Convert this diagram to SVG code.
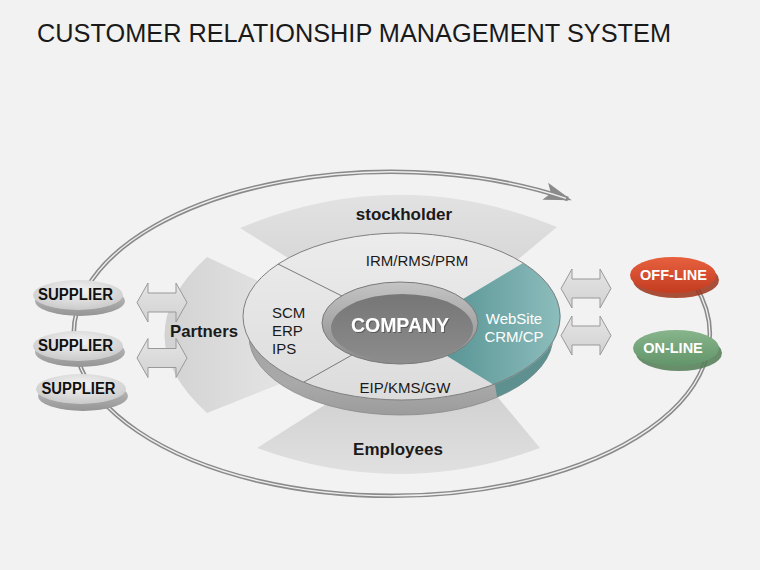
<svg xmlns="http://www.w3.org/2000/svg" width="760" height="570" viewBox="0 0 760 570">
<style>
.t{font-family:"Liberation Sans",Arial,sans-serif}
.b{font-weight:bold}
.lab{font-size:15px;fill:#1a1a1a}
.wl{font-size:15px;fill:#ffffff}
.sup{font-size:16px;font-weight:bold;fill:#111}
.nd{font-size:14.5px;font-weight:bold;fill:#ffffff}
.blk{fill:url(#arrG);stroke:#999;stroke-width:1}
.div{stroke:#7a7a7a;stroke-width:1;fill:none}
</style>
<defs>
<linearGradient id="bandG" x1="0" y1="0" x2="0" y2="1"><stop offset="0" stop-color="#e2e2e2"/><stop offset="1" stop-color="#d3d3d3"/></linearGradient>
<linearGradient id="bandG2" x1="0" y1="0" x2="0" y2="1"><stop offset="0" stop-color="#cfcfcf"/><stop offset="1" stop-color="#e0e0e0"/></linearGradient>
<linearGradient id="partG" x1="0" y1="0" x2="1" y2="0"><stop offset="0" stop-color="#d2d2d2"/><stop offset="1" stop-color="#e5e5e5"/></linearGradient>
<linearGradient id="faceG" x1="0" y1="0" x2="0" y2="1"><stop offset="0" stop-color="#ececec"/><stop offset="1" stop-color="#dcdcdc"/></linearGradient>
<linearGradient id="wallG" x1="0" y1="0" x2="0" y2="1"><stop offset="0" stop-color="#9a9a9a"/><stop offset="0.8" stop-color="#a9a9a9"/><stop offset="1" stop-color="#9c9c9c"/></linearGradient>
<linearGradient id="tealG" x1="0" y1="0" x2="1" y2="0"><stop offset="0" stop-color="#5a9595"/><stop offset="1" stop-color="#8dbdbd"/></linearGradient>
<linearGradient id="rimG" x1="0" y1="0" x2="0" y2="1"><stop offset="0" stop-color="#c4c4c4"/><stop offset="1" stop-color="#8a8a8a"/></linearGradient>
<linearGradient id="floorG" x1="0" y1="0" x2="0" y2="1"><stop offset="0" stop-color="#767676"/><stop offset="1" stop-color="#8c8c8c"/></linearGradient>
<linearGradient id="arrG" x1="0" y1="0" x2="0" y2="1"><stop offset="0" stop-color="#e4e4e4"/><stop offset="1" stop-color="#d2d2d2"/></linearGradient>
<radialGradient id="supG" cx="0.5" cy="0.35" r="0.6"><stop offset="0" stop-color="#f4f4f4"/><stop offset="1" stop-color="#cdcdcd"/></radialGradient>
<linearGradient id="supRim" x1="0" y1="0" x2="0" y2="1"><stop offset="0" stop-color="#c4c4c4"/><stop offset="1" stop-color="#959595"/></linearGradient>
<linearGradient id="offG" x1="0" y1="0" x2="0" y2="1"><stop offset="0" stop-color="#e7603e"/><stop offset="1" stop-color="#c43c21"/></linearGradient>
<linearGradient id="onG" x1="0" y1="0" x2="0" y2="1"><stop offset="0" stop-color="#88b58b"/><stop offset="1" stop-color="#62946a"/></linearGradient>
<clipPath id="tealClip"><polygon points="494,380 503,430 620,430 620,300 562,300"/></clipPath>
<marker id="ah" viewBox="0 0 28 18" refX="24" refY="9" markerWidth="28" markerHeight="18" markerUnits="userSpaceOnUse" orient="auto"><path d="M0,0 L28,9 L0,18 L6,9 Z" fill="#8a8a8a"/></marker>
<path id="dblArrow" d="M-25,0 L-14,-19.5 L-14,-9.5 L14,-9.5 L14,-19.5 L25,0 L14,19.5 L14,9.5 L-14,9.5 L-14,19.5 Z"/>
<filter id="ts" x="-10%" y="-30%" width="120%" height="160%"><feDropShadow dx="1" dy="1" stdDeviation="0.6" flood-color="#444" flood-opacity="0.7"/></filter>
</defs>
<rect width="760" height="570" fill="#f2f2f2"/>
<text class="t" x="37" y="42" font-size="25" fill="#1a1a1a" textLength="634" lengthAdjust="spacingAndGlyphs">CUSTOMER RELATIONSHIP MANAGEMENT SYSTEM</text>

<g id="connectors">
<path d="M695,285 A318,162 0 1 1 568,199" fill="none" stroke="#8a8a8a" stroke-width="4.5" marker-end="url(#ah)"/>
<path d="M695,285 A318,162 0 1 1 566,198.3" fill="none" stroke="#eeeeee" stroke-width="1.4"/>
</g>

<g id="stockholder">
<path d="M240,228 Q398,162 557,227 L480,291 L330,284 Z" fill="url(#bandG)"/>
<text class="t b" x="404" y="220" font-size="17" text-anchor="middle" fill="#1a1a1a">stockholder</text>
</g>
<g id="employees">
<path d="M257,448 Q400,500 540,448 L485,382 L350,389 Z" fill="url(#bandG2)"/>
<text class="t b" x="398" y="455" font-size="17" text-anchor="middle" fill="#1a1a1a">Employees</text>
</g>
<g id="partners">
<path d="M207,257 L290,296 L290,380 L207,413 Q122,335 207,257 Z" fill="url(#partG)"/>
<text class="t b" x="204" y="337" font-size="17" text-anchor="middle" fill="#1a1a1a" textLength="68" lengthAdjust="spacingAndGlyphs">Partners</text>
</g>

<g id="ring">
<ellipse cx="401" cy="336" rx="152" ry="79" fill="url(#wallG)" stroke="#8a8a8a" stroke-width="0.8"/>
<ellipse cx="401" cy="336" rx="152" ry="79" fill="#5e9090" clip-path="url(#tealClip)"/>
<ellipse cx="401.5" cy="316.5" rx="158.5" ry="83.5" fill="url(#faceG)"/>
<path d="M523,263 A158.5,83.5 0 0 1 494,385 L447,356 L463,299 Z" fill="url(#tealG)"/>
<ellipse cx="401.5" cy="316.5" rx="158.5" ry="83.5" fill="none" stroke="#7f7f7f" stroke-width="1"/>
<line class="div" x1="278" y1="264" x2="342" y2="296"/>
<line class="div" x1="304" y1="382" x2="352" y2="355"/>
</g>
<g id="irm"><text class="t lab" x="417" y="266" text-anchor="middle">IRM/RMS/PRM</text></g>
<g id="scm"><text class="t lab" x="272" y="318">SCM</text><text class="t lab" x="272" y="336">ERP</text><text class="t lab" x="272" y="354">IPS</text></g>
<g id="eip"><text class="t lab" x="405" y="393" text-anchor="middle">EIP/KMS/GW</text></g>
<g id="website"><text class="t wl" x="514" y="324" text-anchor="middle">WebSite</text><text class="t wl" x="514" y="342" text-anchor="middle">CRM/CP</text></g>

<g id="company">
<ellipse cx="400" cy="323" rx="78" ry="41" fill="url(#rimG)" stroke="#7a7a7a" stroke-width="1"/>
<ellipse cx="402" cy="328" rx="71" ry="34" fill="url(#floorG)"/>
<text class="t b" x="400" y="332" font-size="19.5" text-anchor="middle" fill="#ffffff" filter="url(#ts)">COMPANY</text>
</g>

<g id="arrows">
<use href="#dblArrow" class="blk" x="162" y="302.5"/>
<use href="#dblArrow" class="blk" x="162" y="358"/>
<use href="#dblArrow" class="blk" x="586" y="288.5"/>
<use href="#dblArrow" class="blk" x="586" y="335.5"/>
</g>

<g id="supplier1">
<ellipse cx="80" cy="301" rx="45" ry="15" fill="url(#supRim)"/>
<ellipse cx="78" cy="295" rx="45" ry="15" fill="url(#supG)"/>
<text class="t sup" x="75.5" y="300" text-anchor="middle" textLength="75" lengthAdjust="spacingAndGlyphs">SUPPLIER</text>
</g>
<g id="supplier2">
<ellipse cx="80" cy="352" rx="45" ry="15" fill="url(#supRim)"/>
<ellipse cx="78" cy="346" rx="45" ry="15" fill="url(#supG)"/>
<text class="t sup" x="75.5" y="351" text-anchor="middle" textLength="75" lengthAdjust="spacingAndGlyphs">SUPPLIER</text>
</g>
<g id="supplier3">
<ellipse cx="83" cy="396" rx="45" ry="15" fill="url(#supRim)"/>
<ellipse cx="81" cy="389" rx="45" ry="15" fill="url(#supG)"/>
<text class="t sup" x="78.5" y="394" text-anchor="middle" textLength="74" lengthAdjust="spacingAndGlyphs">SUPPLIER</text>
</g>

<g id="offline">
<ellipse cx="676" cy="280" rx="43" ry="18" fill="#9c3219" opacity="0.85"/>
<ellipse cx="673" cy="275" rx="43" ry="18" fill="url(#offG)"/>
<text class="t nd" x="673.5" y="280" text-anchor="middle">OFF-LINE</text>
</g>
<g id="online">
<ellipse cx="679" cy="353" rx="43" ry="18" fill="#4f7b54" opacity="0.85"/>
<ellipse cx="676" cy="348" rx="43" ry="18" fill="url(#onG)"/>
<text class="t nd" x="673" y="353" text-anchor="middle">ON-LINE</text>
</g>
</svg>
